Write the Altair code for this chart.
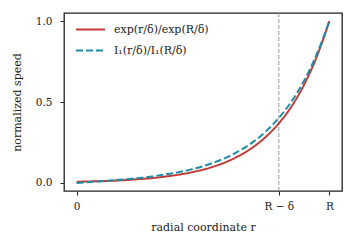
import altair as alt
import pandas as pd

# radial coordinate (R = 1, delta = 0.2)
r = [0.00, 0.05, 0.10, 0.15, 0.20, 0.25, 0.30, 0.35, 0.40, 0.45, 0.50,
     0.55, 0.60, 0.65, 0.70, 0.75, 0.80, 0.85, 0.90, 0.95, 1.00]
exp_ratio = [0.007, 0.009, 0.011, 0.014, 0.018, 0.024, 0.030, 0.039, 0.050, 0.064, 0.082,
             0.105, 0.135, 0.174, 0.223, 0.287, 0.368, 0.472, 0.607, 0.779, 1.000]
bessel_ratio = [0.000, 0.005, 0.011, 0.017, 0.023, 0.031, 0.040, 0.052, 0.065, 0.082, 0.103,
                0.130, 0.162, 0.204, 0.255, 0.320, 0.401, 0.503, 0.632, 0.795, 1.000]

series = ["exp(r/δ)/exp(R/δ)", "I₁(r/δ)/I₁(R/δ)"]
colors = ["#c23b35", "#1f8ca8"]
dashes = [[1, 0], [7, 3]]

x_ticks = [0, 0.8, 1.0]
x_tick_labels = ["0", "R − δ", "R"]
y_ticks = [0.0, 0.5, 1.0]
marker_r = [0.8]

FONT = "DejaVu Serif"
INK = "#222222"

df = pd.DataFrame({
    "r": r + r,
    "v": exp_ratio + bessel_ratio,
    "s": [series[0]] * len(r) + [series[1]] * len(r),
})

label_expr = ""
for val, lab in zip(x_ticks, x_tick_labels):
    label_expr += f"abs(datum.value - {val}) < 1e-6 ? '{lab}' : "
label_expr += "''"

x_enc = alt.X(
    "r:Q",
    scale=alt.Scale(domain=[-0.05, 1.05], nice=False, zero=False),
    axis=alt.Axis(values=x_ticks, labelExpr=label_expr, title="radial coordinate r",
                  grid=False, domain=False, tickSize=4, tickColor=INK, labelPadding=6,
                  titlePadding=10),
)

vline = alt.Chart(pd.DataFrame({"r": marker_r})).mark_rule(
    color="#9a9a9a", strokeDash=[4, 2], strokeWidth=1
).encode(x=x_enc)

lines = alt.Chart(df).mark_line(strokeWidth=2, interpolate="monotone").encode(
    x=x_enc,
    y=alt.Y(
        "v:Q",
        scale=alt.Scale(domain=[-0.05, 1.05], nice=False, zero=False),
        axis=alt.Axis(values=y_ticks, format=".1f", title="normalized speed",
                      grid=False, domain=False, tickSize=4, tickColor=INK,
                      labelPadding=8, titlePadding=13),
    ),
    color=alt.Color("s:N", scale=alt.Scale(domain=series, range=colors), title=None,
                    legend=alt.Legend(orient="none", legendX=11, legendY=1)),
    strokeDash=alt.StrokeDash("s:N", scale=alt.Scale(domain=series, range=dashes), title=None,
                              legend=alt.Legend(orient="none", legendX=11, legendY=1)),
)

chart = (
    alt.layer(vline, lines)
    .properties(width=278, height=178, autosize=alt.AutoSizeParams(type="none"),
                padding={"left": 56, "top": 5, "right": 10, "bottom": 47})
    .configure_view(stroke=INK, strokeWidth=1.3)
    .configure_axis(labelFont=FONT, titleFont=FONT, labelFontSize=10.5, titleFontSize=11,
                    labelColor=INK, titleColor=INK, titleFontWeight="normal")
    .configure_legend(labelFont=FONT, labelFontSize=11, labelColor=INK, symbolType="stroke",
                      symbolSize=841, symbolStrokeWidth=2, padding=0,
                      rowPadding=-5, labelOffset=8)
)

chart.save("out.html", embed_options={"renderer": "svg", "actions": False})
